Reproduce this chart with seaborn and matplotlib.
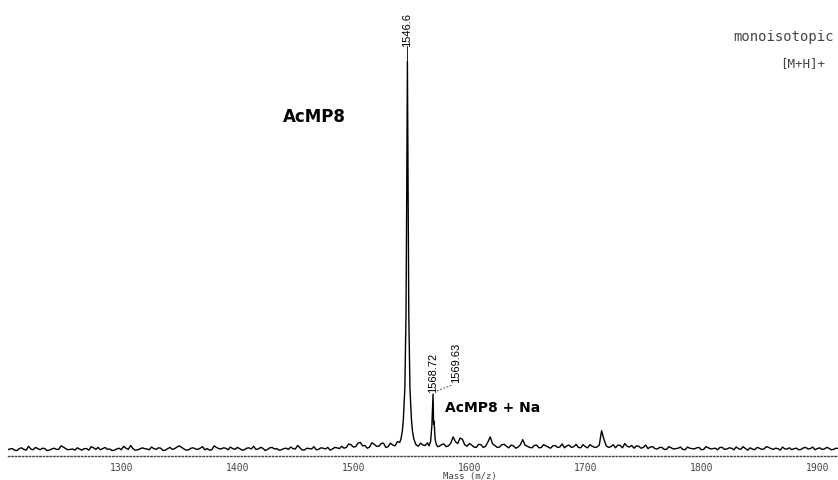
import numpy as np
import pandas as pd
import matplotlib
matplotlib.use("Agg")
import matplotlib.pyplot as plt
import seaborn as sns

# Baseline trace, sampled every 4 m/z from 1202 to 1918 (relative intensity, %)
baseline_start, baseline_step = 1202, 4
baseline_int = [
    0.3, 0.6, 0.1, 0.8, 0.2, 0.5, 0.9, 0.3, 0.6, 0.2,
    0.7, 0.4, 1.0, 0.3, 0.5, 0.8, 0.2, 0.6, 1.1, 0.4,
    0.3, 0.9, 0.5, 0.2, 0.7, 1.2, 0.4, 0.6, 0.3, 0.8,
    0.5, 1.0, 0.4, 0.7, 0.2, 0.9, 0.6, 1.3, 0.5, 0.3,
    0.8, 0.4, 1.1, 0.6, 0.3, 0.9, 0.5, 0.7, 1.0, 0.4,
    0.6, 0.3, 0.8, 1.2, 0.5, 0.7, 0.4, 0.9, 0.6, 0.3,
    0.7, 1.0, 0.5, 0.8, 0.3, 0.6, 1.1, 0.4, 0.7, 0.9,
    0.5, 0.8, 1.2, 0.9, 1.6, 1.1, 2.2, 1.4, 1.0, 1.7,
    1.2, 2.0, 1.1, 1.5, 2.4, 2.6, 2.6, 2.6, 1.6, 2.0,
    1.4, 1.3, 1.3, 1.2, 1.8, 1.3, 3.6, 1.9, 3.0, 1.2,
    1.5, 0.9, 1.6, 1.2, 3.6, 1.4, 1.0, 1.7, 0.8, 1.3,
    1.0, 2.9, 1.2, 0.8, 1.5, 0.9, 1.3, 0.7, 1.4, 1.0,
    0.8, 1.5, 1.1, 0.9, 1.6, 0.8, 1.2, 1.0, 5.2, 1.3,
    1.1, 0.8, 1.4, 1.9, 1.0, 0.7, 1.2, 0.9, 0.6, 1.1,
    0.5, 0.9, 0.4, 0.8, 0.6, 1.0, 0.3, 0.7, 0.5, 0.9,
    0.4, 0.8, 0.6, 0.3, 0.9, 0.5, 0.7, 1.0, 0.4, 0.6,
    0.8, 0.3, 0.7, 0.5, 0.9, 0.4, 0.6, 1.0, 0.5, 0.3,
    0.7, 0.4, 0.9, 0.6, 0.3, 0.8, 0.5, 0.7, 0.4, 0.6,
]
# Intermediate samples, 2 m/z after each baseline sample
baseline_mid_int = [
    0.5, 0.2, 0.6, 0.4, 1.2, 0.3, 0.6, 0.7, 0.1, 0.5,
    0.4, 1.3, 0.6, 0.4, 0.2, 0.5, 0.6, 0.2, 0.8, 0.9,
    0.6, 0.4, 0.1, 0.5, 0.3, 0.7, 1.4, 0.2, 0.5, 0.6,
    0.3, 0.6, 0.8, 0.1, 0.6, 0.4, 1.0, 0.9, 0.2, 0.7,
    0.5, 0.7, 0.3, 0.2, 1.3, 0.6, 0.8, 0.3, 0.6, 0.9,
    0.2, 0.7, 0.5, 0.4, 0.9, 0.1, 0.8, 0.5, 0.2, 0.6,
    0.4, 0.6, 1.4, 0.2, 0.7, 0.5, 0.3, 0.8, 0.5, 0.2,
    0.9, 0.6, 0.7, 1.8, 1.0, 2.0, 1.3, 0.7, 2.1, 1.2,
    1.9, 0.9, 2.0, 1.3, 1.8, 3.0, 3.0, 3.0, 1.2, 1.5,
    2.1, 1.5, 1.5, 1.6, 1.1, 2.0, 2.4, 3.3, 1.6, 1.9,
    1.0, 1.7, 0.9, 2.3, 1.8, 0.9, 1.6, 1.2, 1.5, 0.7,
    1.6, 1.5, 0.9, 1.4, 0.8, 1.6, 1.0, 1.3, 0.9, 1.8,
    1.3, 0.9, 1.7, 0.8, 1.1, 1.6, 0.9, 1.5, 3.0, 0.9,
    1.6, 1.5, 0.8, 1.2, 1.4, 1.3, 0.7, 1.5, 1.0, 0.6,
    0.9, 0.4, 1.1, 0.5, 0.7, 0.4, 1.0, 0.6, 0.8, 0.3,
    1.1, 0.5, 0.7, 0.9, 0.4, 0.8, 0.3, 0.6, 1.1, 0.2,
    0.5, 0.9, 0.4, 1.1, 0.6, 0.7, 0.2, 0.5, 0.8, 0.6,
    0.3, 0.8, 0.5, 1.0, 0.6, 0.4, 0.9, 0.3, 0.7, 0.4,
]

# [M+H]+ peak of AcMP8
main_mz = [1540.0, 1541.0, 1542.2, 1543.1, 1544.4, 1545.4, 1546.0, 1546.6,
           1547.2, 1547.8, 1548.8, 1550.1, 1551.0, 1552.2, 1553.5]
main_int = [2.2, 3.0, 5.0, 8.0, 16.0, 35.0, 65.0, 100.0,
            65.0, 35.0, 16.0, 8.0, 5.0, 3.0, 2.0]

# Sodium adduct peak
na_mz = [1565.2, 1566.6, 1567.7, 1568.72, 1569.2, 1569.63, 1570.5, 1571.6, 1572.8]
na_int = [1.3, 2.4, 6.5, 14.6, 6.8, 7.6, 3.0, 1.6, 1.1]

peak_labels = ["1546.6", "1568.72", "1569.63"]
tick_values = [1300, 1400, 1500, 1600, 1700, 1800, 1900]

# Assemble the spectrum: baseline samples outside the peak windows + peak points
base_mz = np.concatenate([
    baseline_start + baseline_step * np.arange(len(baseline_int)),
    baseline_start + 2 + baseline_step * np.arange(len(baseline_mid_int)),
])
base_int = np.array(baseline_int + baseline_mid_int)
keep = ~(((base_mz >= main_mz[0]) & (base_mz <= main_mz[-1])) |
         ((base_mz >= na_mz[0]) & (base_mz <= na_mz[-1])))
spec = pd.DataFrame({
    "mz": np.concatenate([base_mz[keep], main_mz, na_mz]),
    "intensity": np.concatenate([base_int[keep], main_int, na_int]),
}).sort_values("mz").reset_index(drop=True)

sns.set_style("white")
fig = plt.figure(figsize=(8.38, 4.81), dpi=100)
ax = fig.add_axes([8 / 838, 24 / 481, 830 / 838, 457 / 481])

sns.lineplot(data=spec, x="mz", y="intensity", ax=ax, color="black",
             linewidth=1.0, sort=True, estimator=None)

ax.set_xlim(1202.3, 1917.8)
ax.set_ylim(-1.3, 116)

for side in ("top", "right", "left"):
    ax.spines[side].set_visible(False)
ax.spines["bottom"].set_linestyle((0, (1, 1.5)))
ax.spines["bottom"].set_color("#444444")
ax.spines["bottom"].set_linewidth(1.0)

ax.set_yticks([])
ax.set_xticks(tick_values)
ax.set_xticklabels([str(v) for v in tick_values], family="DejaVu Sans Mono",
                   fontsize=7, color="#444444")
ax.tick_params(axis="x", direction="out", length=2.5, width=0.8, color="#555555", pad=1.5)
ax.set_xlabel("Mass (m/z)", family="DejaVu Sans Mono", fontsize=6.5, color="#444444",
              va="center")
ax.xaxis.set_label_coords((470 - 8) / 830, -0.043)
ax.set_ylabel("")

# Peak labels
ax.plot([main_mz[7], main_mz[7]], [main_int[7], 104], color="black", lw=0.6)
ax.text(main_mz[7], 104, peak_labels[0], rotation=90, ha="center", va="bottom",
        family="Liberation Sans", fontsize=8, color="black")
ax.text(na_mz[3], na_int[3] + 0.5, peak_labels[1], rotation=90, ha="center", va="bottom",
        family="Liberation Sans", fontsize=8, color="black")
ax.text(1588.5, 17.7, peak_labels[2], rotation=90, ha="center", va="bottom",
        family="Liberation Sans", fontsize=8, color="black")
ax.plot([1572.1, 1585.0], [15.4, 16.9], color="#555555", lw=0.7, ls=(0, (2, 1.5)))

ax.text(1439.4, 86, "AcMP8", ha="left", va="center", family="DejaVu Sans",
        fontweight="bold", fontsize=12, color="black")
ax.text(1579, 11.3, "AcMP8 + Na", ha="left", va="center", family="DejaVu Sans",
        fontweight="bold", fontsize=10, color="black")

ax.text(1827.2, 106.5, "monoisotopic", ha="left", va="center",
        family="DejaVu Sans Mono", fontsize=10, color="#444444")
ax.text(1867.7, 99.8, "[M+H]+", ha="left", va="center",
        family="DejaVu Sans Mono", fontsize=9, color="#444444")

fig.savefig("out.png", dpi=100)
